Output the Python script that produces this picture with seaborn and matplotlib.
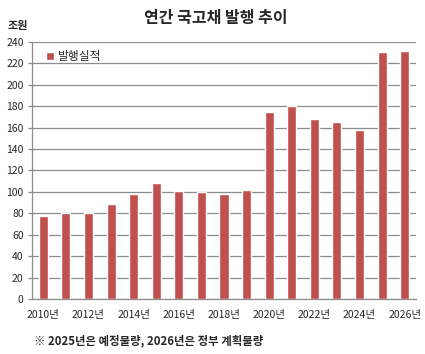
import numpy as np
import pandas as pd
import matplotlib
matplotlib.use("Agg")
import matplotlib.pyplot as plt
import seaborn as sns

# 연간 국고채 발행 추이 (조원)
years = ["2010", "2011", "2012", "2013", "2014", "2015", "2016", "2017", "2018",
         "2019", "2020", "2021", "2022", "2023", "2024", "2025", "2026"]
issued = [77.9, 80.7, 80.0, 88.4, 97.7, 108.6, 101.2, 100.0, 97.7,
          101.5, 175.0, 180.3, 168.1, 165.6, 158.2, 230.6, 231.5]
yticks = list(range(0, 241, 20))
series_name = "발행실적"

df = pd.DataFrame({"year": years, "value": issued})

sns.set_style("white")
plt.rcParams["font.family"] = ["Noto Sans CJK KR", "DejaVu Sans"]

fig = plt.figure(figsize=(4.25, 3.54), dpi=100)
ax = fig.add_axes([32 / 425, 55 / 354, 384 / 425, 257 / 354])

bar_color = "#C0504D"
sns.barplot(data=df, x="year", y="value", color=bar_color, saturation=1,
            width=0.4, ax=ax, label=series_name)

ax.set_xlim(-0.5, len(years) - 0.5)
ax.set_ylim(0, 240)
ax.set_yticks(yticks)
ax.set_yticklabels([str(v) for v in yticks], fontsize=7.5)
ax.yaxis.grid(True, color="#8c8c8c", linewidth=0.9)
ax.set_axisbelow(True)

# x labels every two years, tick marks between categories
lab_pos = list(range(0, len(years), 2))
ax.set_xticks(lab_pos)
ax.set_xticklabels([years[i] + "년" for i in lab_pos], fontsize=7.5)
ax.set_xticks(np.arange(-0.5, len(years), 1), minor=True)
ax.tick_params(axis="x", which="major", length=0, pad=8)
ax.tick_params(axis="x", which="minor", length=4, color="#8c8c8c", width=0.9)
ax.tick_params(axis="y", length=3, color="#8c8c8c", width=0.9, pad=3, left=True)
ax.set_xlabel("")
ax.set_ylabel("")

for s in ["top", "right"]:
    ax.spines[s].set_visible(False)
for s in ["left", "bottom"]:
    ax.spines[s].set_color("#8c8c8c")
    ax.spines[s].set_linewidth(0.9)

ax.legend(loc="upper left", frameon=False, fontsize=8.5, handlelength=0.7,
          handleheight=0.7, handletextpad=0.3, borderaxespad=0.3,
          bbox_to_anchor=(0.015, 1.0))

fig.text(216 / 425, 1 - 18 / 354, "연간 국고채 발행 추이", ha="center", va="center",
         fontsize=11.5, fontweight="bold")
fig.text(8 / 425, 1 - 25 / 354, "조원", ha="left", va="center",
         fontsize=8, fontweight="bold")
fig.text(34 / 425, 1 - 341 / 354, "※ 2025년은 예정물량, 2026년은 정부 계획물량",
         ha="left", va="center", fontsize=8.2, fontweight="bold")

fig.savefig("out.png", dpi=100)
